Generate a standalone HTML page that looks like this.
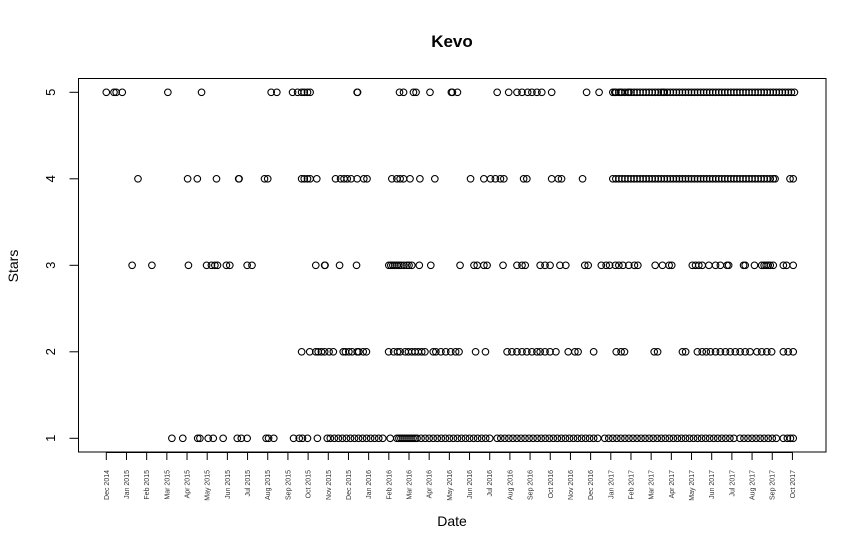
<!DOCTYPE html>
<html><head><meta charset="utf-8"><style>
html,body{margin:0;padding:0;background:#fff;}
svg{display:block;font-family:"Liberation Sans",Arial,sans-serif;}
</style></head><body>
<svg id="chart" width="867" height="550" viewBox="0 0 867 550">
<rect x="0" y="0" width="867" height="550" fill="#fff"/>
<text x="452" y="47" text-anchor="middle" font-size="17" font-weight="bold">Kevo</text>
<text x="452" y="526" text-anchor="middle" font-size="14">Date</text>
<text x="0" y="0" transform="translate(18,266) rotate(-90)" text-anchor="middle" font-size="14">Stars</text>
<rect x="78.5" y="78.5" width="747.5" height="373.5" fill="none" stroke="#000" stroke-width="1"/>
<g id="xaxis"></g>
<g id="yaxis"></g>
<g id="points"></g>
</svg>
<script>
// x values: months since Dec 1 2014
const tickLabels = ["Dec 2014","Jan 2015","Feb 2015","Mar 2015","Apr 2015","May 2015","Jun 2015","Jul 2015","Aug 2015","Sep 2015","Oct 2015","Nov 2015","Dec 2015","Jan 2016","Feb 2016","Mar 2016","Apr 2016","May 2016","Jun 2016","Jul 2016","Aug 2016","Sep 2016","Oct 2016","Nov 2016","Dec 2016","Jan 2017","Feb 2017","Mar 2017","Apr 2017","May 2017","Jun 2017","Jul 2017","Aug 2017","Sep 2017","Oct 2017"];
const yTicks = [1,2,3,4,5];
const stars5 = [0.0,0.38,0.49,0.79,3.05,4.72,8.17,8.45,9.23,9.48,9.68,9.81,9.97,10.1,12.43,12.45,14.53,14.73,15.22,15.35,16.04,17.1,17.15,17.4,19.37,19.94,20.35,20.6,20.88,21.09,21.34,21.58,22.07,23.8,24.42,
25.1,25.2,25.25,25.4,25.5,25.55,25.7,25.85,25.9,26.0,26.15,26.3,26.45,26.6,26.75,26.9,27.05,27.2,27.35,27.5,27.6,27.65,27.8,27.95,28.1,28.25,28.4,28.55,28.7,28.85,29.0,29.15,29.3,29.45,29.6,29.75,29.9,30.05,30.2,30.35,30.5,30.65,30.8,30.95,31.1,31.25,31.4,31.55,31.7,31.85,32.0,32.15,32.3,32.45,32.6,32.75,32.9,33.05,33.2,33.35,33.5,33.65,33.8,33.95,34.1];
const stars4 = [1.57,4.03,4.51,5.46,6.56,6.58,7.84,8.0,9.68,9.81,9.97,10.1,10.43,11.36,11.61,11.78,11.94,12.13,12.43,12.76,12.92,14.15,14.4,14.56,14.73,15.05,15.54,16.28,18.05,18.71,19.04,19.28,19.53,19.7,20.68,20.84,22.07,22.4,22.56,23.6,
25.1,25.25,25.4,25.55,25.7,25.85,26.0,26.15,26.3,26.45,26.6,26.75,26.9,27.05,27.2,27.35,27.5,27.65,27.8,27.95,28.1,28.25,28.4,28.55,28.7,28.85,29.0,29.15,29.3,29.45,29.6,29.75,29.9,30.05,30.2,30.35,30.5,30.65,30.8,30.95,31.1,31.25,31.4,31.55,31.7,31.85,32.0,32.15,32.3,32.45,32.6,32.75,32.9,33.05,33.14,33.88,34.04];
const stars3 = [1.28,2.26,4.07,4.97,5.21,5.38,5.51,5.95,6.12,6.98,7.22,10.38,10.82,10.84,11.56,12.4,14.0,14.1,14.2,14.3,14.4,14.5,14.6,14.75,14.9,15.0,15.14,15.51,16.08,17.53,18.22,18.38,18.71,18.87,19.66,20.35,20.6,20.76,21.5,21.74,21.99,22.48,22.77,23.71,23.88,24.53,24.77,24.94,25.23,25.4,25.6,25.89,26.17,26.34,27.2,27.56,27.89,28.02,29.04,29.2,29.36,29.53,29.86,30.19,30.43,30.76,30.84,31.58,31.66,32.12,32.48,32.6,32.7,32.8,32.9,33.05,33.55,33.71,34.04];
const stars2 = [9.68,10.08,10.38,10.5,10.66,10.82,11.04,11.25,11.74,11.85,12.02,12.18,12.43,12.51,12.73,12.89,13.99,14.24,14.43,14.56,14.81,14.97,15.14,15.3,15.46,15.63,15.79,16.2,16.33,16.58,16.82,17.07,17.31,17.48,18.3,18.79,19.86,20.1,20.35,20.6,20.84,21.09,21.34,21.5,21.74,21.99,22.28,22.89,23.22,23.38,24.15,25.27,25.51,25.68,27.15,27.32,28.55,28.71,29.29,29.53,29.73,29.94,30.19,30.43,30.68,30.92,31.17,31.41,31.66,31.9,32.24,32.48,32.73,32.97,33.55,33.79,34.04];
const stars1 = [3.25,3.79,4.53,4.64,5.05,5.3,5.79,6.49,6.69,6.98,7.92,8.04,8.3,9.28,9.56,9.72,9.97,10.46,
10.95,11.1,11.3,11.5,11.7,11.9,12.1,12.3,12.5,12.7,12.9,13.1,13.3,13.5,13.7,14.07,14.4,14.5,14.6,14.7,14.8,14.9,15.0,15.1,15.2,15.3,15.4,15.6,15.8,16.0,16.2,16.4,16.6,16.8,17.0,17.2,17.4,17.6,17.8,18.0,18.2,18.4,18.6,18.8,19.0,19.37,19.55,19.75,19.95,20.15,20.35,20.55,20.75,20.95,21.15,21.35,21.55,21.75,21.95,22.15,22.35,22.55,22.75,22.95,23.15,23.35,23.55,23.75,23.95,24.15,24.35,24.7,24.9,25.1,25.3,25.5,25.7,25.9,26.1,26.3,26.5,26.7,26.9,27.1,27.3,27.5,27.7,27.9,28.1,28.3,28.5,28.7,28.9,29.1,29.3,29.5,29.7,29.9,30.1,30.3,30.5,30.7,30.9,31.1,31.4,31.6,31.8,32.0,32.2,32.4,32.6,32.8,33.0,33.2,33.55,33.75,33.9,34.04];

const NS = "http://www.w3.org/2000/svg";
function xScale(m){ return 106.3 + m*20.18; }
function yScale(s){ return 438.3 - (s-1)*86.5; }

const xg = document.getElementById('xaxis');
const axl = document.createElementNS(NS,'line');
axl.setAttribute('x1', xScale(0)); axl.setAttribute('x2', xScale(tickLabels.length-1));
axl.setAttribute('y1',452.5); axl.setAttribute('y2',452.5); axl.setAttribute('stroke','#000');


xg.appendChild(axl);
tickLabels.forEach((lab,i)=>{
  const x = xScale(i);
  const t = document.createElementNS(NS,'line');
  t.setAttribute('x1',x); t.setAttribute('x2',x); t.setAttribute('y1',452.5); t.setAttribute('y2',460); t.setAttribute('stroke','#000');
  
  
  xg.appendChild(t);
  const tx = document.createElementNS(NS,'text');
  tx.setAttribute('transform','translate('+(x+2.5)+',470) rotate(-90)');
  tx.setAttribute('text-anchor','end'); tx.setAttribute('font-size','7'); tx.setAttribute('fill','#333');
  tx.textContent = lab;
  
  
  xg.appendChild(tx);
});

const yg = document.getElementById('yaxis');
const ayl = document.createElementNS(NS,'line');
ayl.setAttribute('x1',78.5); ayl.setAttribute('x2',78.5); ayl.setAttribute('y1',yScale(1)); ayl.setAttribute('y2',yScale(5)); ayl.setAttribute('stroke','#000');


yg.appendChild(ayl);
yTicks.forEach(v=>{
  const y = yScale(v);
  const t = document.createElementNS(NS,'line');
  t.setAttribute('x1',69.5); t.setAttribute('x2',78.5); t.setAttribute('y1',y); t.setAttribute('y2',y); t.setAttribute('stroke','#000');
  
  
  yg.appendChild(t);
  const tx = document.createElementNS(NS,'text');
  tx.setAttribute('transform','translate(55,'+y+') rotate(-90)');
  tx.setAttribute('text-anchor','middle'); tx.setAttribute('font-size','13');
  tx.textContent = v;
  
  
  yg.appendChild(tx);
});

const pg = document.getElementById('points');
[[1,stars1],[2,stars2],[3,stars3],[4,stars4],[5,stars5]].forEach(([s,arr])=>{
  arr.forEach(m=>{
    const c = document.createElementNS(NS,'circle');
    c.setAttribute('cx', xScale(m)); c.setAttribute('cy', yScale(s)); c.setAttribute('r',3.3);
    c.setAttribute('fill','none'); c.setAttribute('stroke','#000'); c.setAttribute('stroke-width','1.1');
    
    
    pg.appendChild(c);
  });
});
</script>
</body></html>
